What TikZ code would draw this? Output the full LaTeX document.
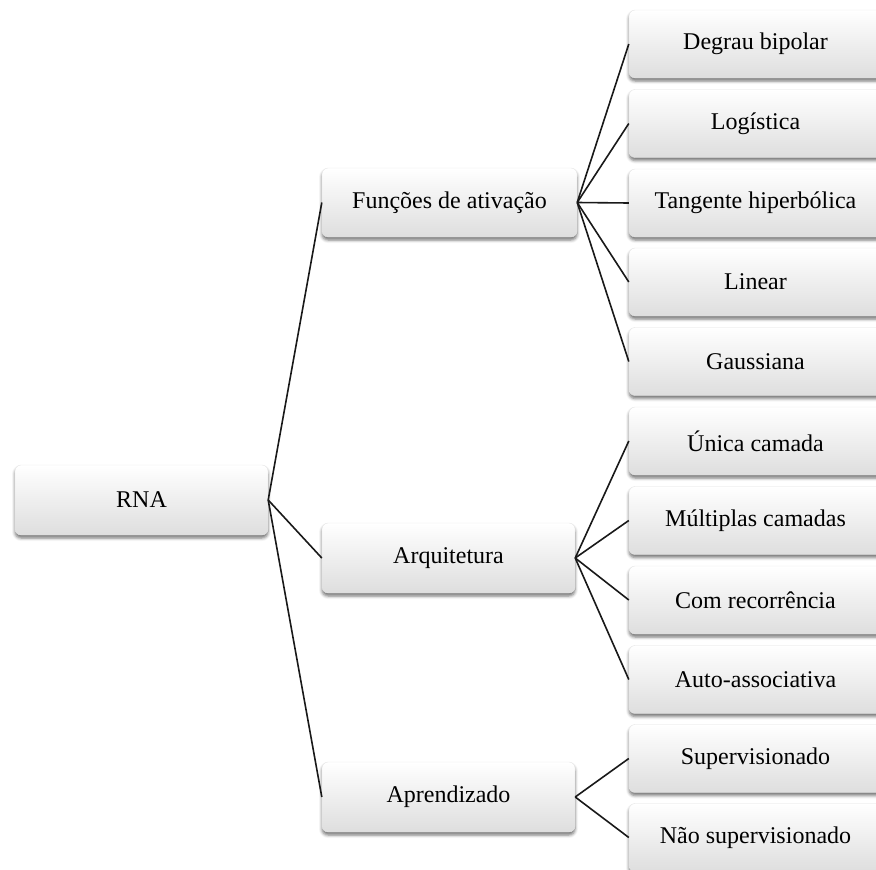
\documentclass[tikz,border=0pt]{standalone}
\usepackage{fontspec}
\setmainfont{Liberation Serif}
\usetikzlibrary{shadows.blur}
\begin{document}
\begin{tikzpicture}[x=1pt,y=-1pt,
  card/.style={rectangle, rounded corners=6pt, minimum width=253pt, minimum height=68pt,
    draw=black!10, line width=0.4pt,
    top color=white, middle color=white, bottom color=black!13,
    blur shadow={shadow xshift=0pt, shadow yshift=-3pt, shadow blur radius=3pt, shadow opacity=55},
    font=\fontsize{24pt}{28pt}\selectfont, inner sep=0pt},
  link/.style={draw=black!90, line width=1.6pt}]
\path[use as bounding box] (0,0) rectangle (876,870);
\clip (0,0) rectangle (876,870);

% root
\node[card, minimum height=70pt] (rna) at (141.5,500) {RNA};

% second level
\node[card, minimum width=255pt, minimum height=69pt] (fa) at (449.5,202.5) {Funções de ativação};
\node[card, minimum height=70pt] (arq) at (448.5,558) {Arquitetura};
\node[card, minimum height=70pt] (apr) at (448.5,797) {Aprendizado};

% leaves
\node[card] (c1)  at (755.5,44)   {Degrau bipolar};
\node[card] (c2)  at (755.5,123.5) {Logística};
\node[card] (c3)  at (755.5,203)  {Tangente hiperbólica};
\node[card] (c4)  at (755.5,282)  {Linear};
\node[card] (c5)  at (755.5,361.5) {Gaussiana};
\node[card] (c6)  at (755.5,441)  {Única camada};
\node[card] (c7)  at (755.5,520.5) {Múltiplas camadas};
\node[card] (c8)  at (755.5,600)  {Com recorrência};
\node[card] (c9)  at (755.5,679.5) {Auto-associativa};
\node[card] (c10) at (755.5,758.5) {Supervisionado};
\node[card] (c11) at (755.5,837.5) {Não supervisionado};

% connectors
\foreach \t in {fa,arq,apr} \path[link] (rna.east) -- (\t.west);
\foreach \t in {c1,c2,c3,c4,c5} \path[link] (fa.east) -- (\t.west);
\foreach \t in {c6,c7,c8,c9} \path[link] (arq.east) -- (\t.west);
\foreach \t in {c10,c11} \path[link] (apr.east) -- (\t.west);
\end{tikzpicture}
\end{document}
